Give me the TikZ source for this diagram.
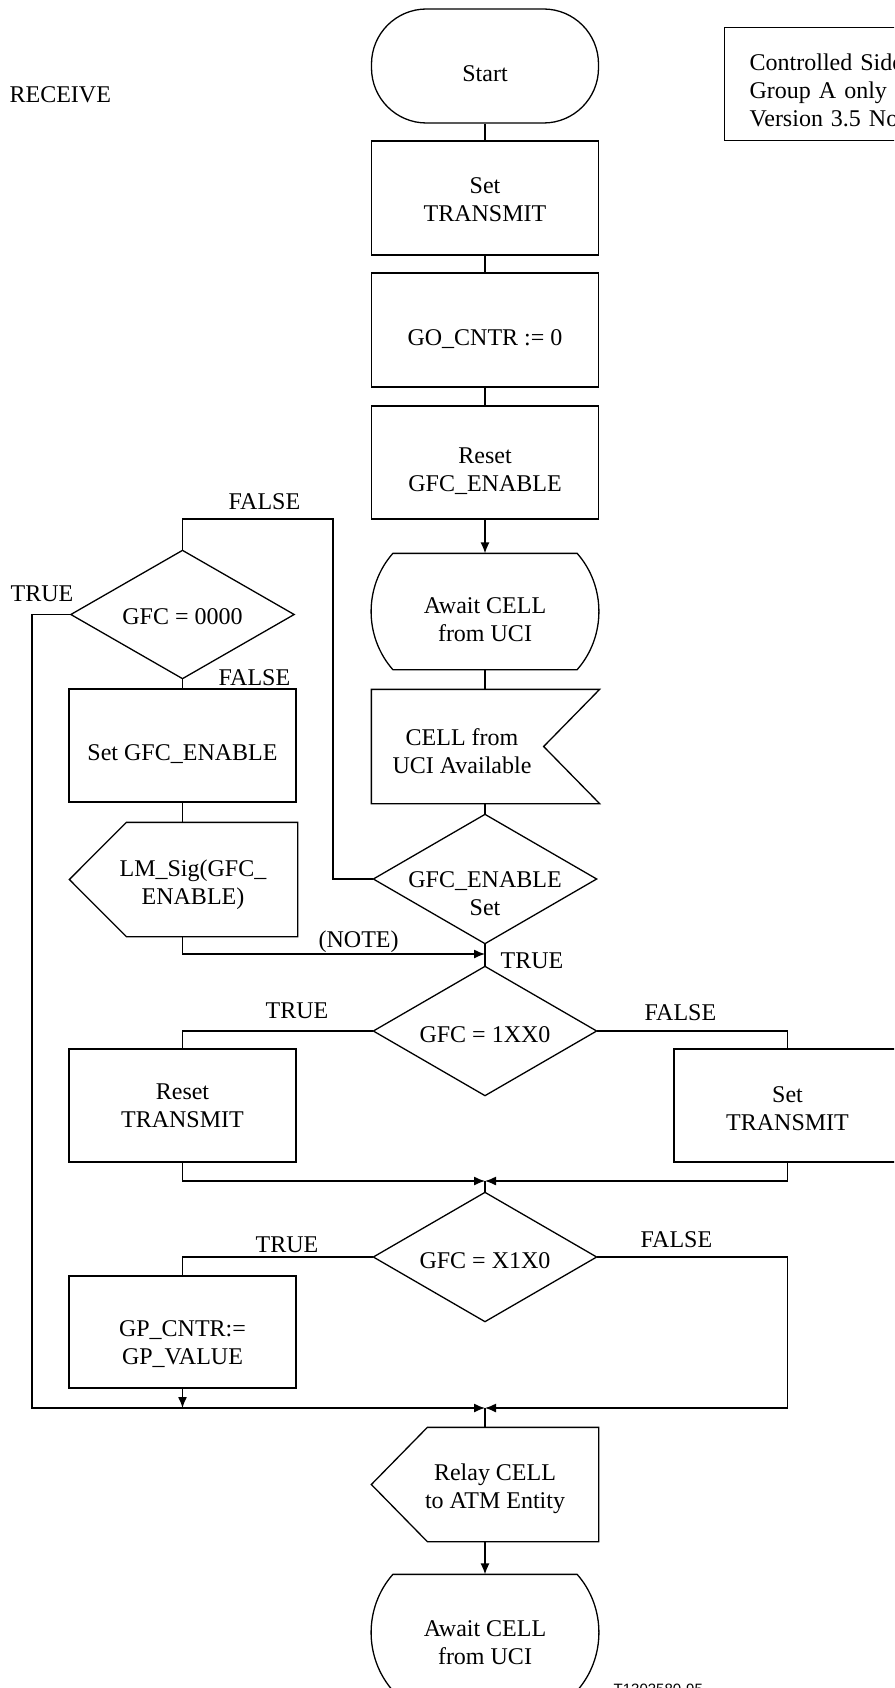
\documentclass[tikz,border=0pt]{standalone}
\usepackage{fontspec}
\setmainfont{Liberation Serif}
\newfontfamily\figfont{Liberation Sans}
\usetikzlibrary{arrows.meta}
\tikzset{
  box/.style={draw, rectangle, minimum width=227pt, minimum height=113pt, align=center, inner sep=0pt},
  blank/.style={rectangle, minimum height=113pt, align=center, inner sep=0pt},
  decision/.style={rectangle, minimum width=222pt, minimum height=128pt, align=center, inner sep=0pt},
  lbl/.style={anchor=base west, inner sep=0pt},
  tx/.style 2 args={text height=#1, text depth=#2},
  arr/.style={-{Latex[length=11pt,width=9pt]}}
}

\begin{document}
\begin{tikzpicture}[x=1pt, y=-1pt, line width=1.3pt, font=\fontsize{24}{28}\selectfont]
    \useasboundingbox (0,0) rectangle (894,1688);
    \clip (0,0) rectangle (894,1688);

    \node[lbl] (recv) at (9,103) {RECEIVE};
    \node[draw, anchor=north west, text width=160pt, align=left, inner xsep=25pt, inner ysep=0pt,
          minimum height=113pt, tx={18pt}{45pt}] (ctrl) at (724,27)
          {Controlled Side\\Group A only s\\Version 3.5 No};

    \node[box, rounded corners=55pt, minimum height=114pt, tx={32pt}{0pt}] (start) at (485,66) {Start};
    \node[box, minimum height=114pt, tx={48pt}{0pt}] (settx) at (485,198) {Set\\TRANSMIT};
    \node[box, minimum height=114pt, tx={30pt}{0pt}] (gocntr) at (485,330) {GO\_CNTR := 0};
    \node[box, tx={57pt}{0pt}] (resetgfc) at (485,462.5) {Reset\\GFC\_ENABLE};
    \node[blank, minimum width=227pt, minimum height=115pt, tx={59pt}{0pt}] (await1) at (485,611.5) {Await CELL\\from UCI};
    \node[blank, minimum width=180pt, tx={53pt}{0pt}] (avail) at (462,746.5) {CELL from\\UCI Available};
    \node[decision, tx={72pt}{0pt}] (dEnable) at (485,879) {GFC\_ENABLE\\Set};

    \node[decision, minimum height=127pt, tx={20pt}{0pt}] (d0000) at (182.5,614.5) {GFC = 0000};
    \node[box, tx={29pt}{0pt}] (setgfc) at (182.5,745.5) {Set GFC\_ENABLE};
    \node[blank, minimum width=208pt, tx={49pt}{0pt}] (lmsig) at (193,879.5) {LM\_Sig(GFC\_\\ENABLE)};

    \node[decision, tx={22pt}{0pt}] (d1xx0) at (485,1031) {GFC = 1XX0};
    \node[box, tx={43pt}{0pt}] (resettx) at (182.5,1105.5) {Reset\\TRANSMIT};
    \node[box, tx={49pt}{0pt}] (settx2) at (787.5,1105.5) {Set\\TRANSMIT};
    \node[decision, tx={22pt}{0pt}] (dx1x0) at (485,1257) {GFC = X1X0};
    \node[box, minimum height=112pt, tx={64pt}{0pt}] (gpcntr) at (182.5,1332) {GP\_CNTR:=\\GP\_VALUE};
    \node[blank, minimum width=206pt, tx={47pt}{0pt}] (relay) at (495,1484.5) {Relay CELL\\to ATM Entity};
    \node[blank, minimum width=227pt, minimum height=115pt, tx={63pt}{0pt}] (await2) at (485,1632.5) {Await CELL\\from UCI};

    \node[lbl, font=\figfont\fontsize{15}{18}\selectfont] (fignum) at (613,1694) {T1303580-95};

    \node[lbl] (f1) at (228,509) {FALSE};
    \node[lbl] (t1) at (10,601) {TRUE};
    \node[lbl] (f2) at (218,685) {FALSE};
    \node[lbl] (note) at (318,947) {(NOTE)};
    \node[lbl] (t2) at (500,968) {TRUE};
    \node[lbl] (t3) at (265,1018) {TRUE};
    \node[lbl] (f3) at (644,1020) {FALSE};
    \node[lbl] (t4) at (255,1252) {TRUE};
    \node[lbl] (f4) at (640,1247) {FALSE};

    \foreach \d in {d0000,dEnable,d1xx0,dx1x0}
        \draw (\d.north) -- (\d.east) -- (\d.south) -- (\d.west) -- cycle;
    \foreach \a in {await1,await2}
        \draw ([xshift=22pt]\a.north west) -- ([xshift=-22pt]\a.north east)
              .. controls +(29,33) and +(29,-33) .. ([xshift=-22pt]\a.south east)
              -- ([xshift=22pt]\a.south west)
              .. controls +(-29,-33) and +(-29,33) .. ([xshift=22pt]\a.north west) -- cycle;
    \draw (avail.north west) -- ([xshift=47pt]avail.north east) -- ([xshift=-9pt]avail.east)
          -- ([xshift=47pt]avail.south east) -- (avail.south west) -- cycle;
    \draw (lmsig.north east) -- (lmsig.south east) -- ([xshift=38pt]lmsig.south west)
          -- ([xshift=-19pt]lmsig.west) -- ([xshift=38pt]lmsig.north west) -- cycle;
    \draw (relay.north east) -- (relay.south east) -- ([xshift=36pt]relay.south west)
          -- ([xshift=-20pt]relay.west) -- ([xshift=36pt]relay.north west) -- cycle;

    \coordinate (nt) at (485,954);
    \coordinate (m2) at (485,1181);
    \coordinate (m3) at (485,1408);
    \coordinate (fl) at (333,519);
    \coordinate (tl) at (32,1408);
    \coordinate (rb) at (787.5,1408);

    \draw (start.south) -- (settx.north);
    \draw (settx.south) -- (gocntr.north);
    \draw (gocntr.south) -- (resetgfc.north);
    \draw[arr] (resetgfc.south) -- (await1.north);
    \draw (await1.south) -- (avail.north -| await1.south);
    \draw (avail.south -| dEnable.north) -- (dEnable.north);
    \draw (dEnable.south) -- (d1xx0.north);
    \draw (dEnable.west) -| (fl) -| (d0000.north);
    \draw (d0000.south) -- (setgfc.north);
    \draw (setgfc.south) -- (lmsig.north -| setgfc.south);
    \draw[arr] (lmsig.south -| setgfc.south) |- (nt);
    \draw[arr] (d0000.west) -| (tl) -- (m3);
    \draw (d1xx0.west) -| (resettx.north);
    \draw (d1xx0.east) -| (settx2.north);
    \draw[arr] (resettx.south) |- (m2);
    \draw[arr] (settx2.south) |- (m2);
    \draw (m2) -- (dx1x0.north);
    \draw (dx1x0.west) -| (gpcntr.north);
    \draw[arr] (dx1x0.east) -| (rb) -- (m3);
    \draw[arr] (gpcntr.south) -- (gpcntr.south |- tl);
    \draw (m3) -- (relay.north -| m3);
    \draw[arr] (relay.south -| m3) -- (await2.north);
\end{tikzpicture}
\end{document}
